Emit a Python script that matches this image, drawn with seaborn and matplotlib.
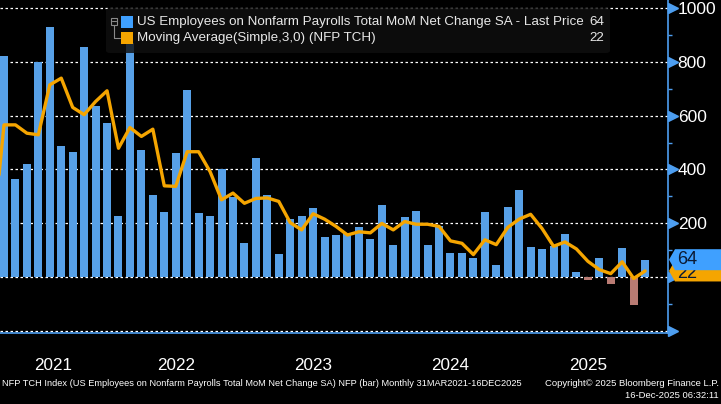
import matplotlib
matplotlib.use("Agg")
import matplotlib.pyplot as plt
import matplotlib.transforms as mtransforms
from matplotlib.patches import Polygon, FancyBboxPatch, Rectangle
from matplotlib.lines import Line2D
from matplotlib.ticker import MultipleLocator, FixedLocator
import seaborn as sns
import numpy as np
import pandas as pd

# ---------------- data ----------------
months = pd.date_range("2021-03-31", "2025-11-30", freq="ME")
nfp = [824, 365, 421, 799, 932, 488, 466, 857, 637, 574,
       227, 870, 473, 306, 242, 462, 697, 238, 227, 401, 298, 125,
       443, 306, 86, 216, 227, 257, 149, 156, 165, 186, 142, 268,
       119, 224, 246, 119, 190, 90, 90, 72, 242, 46, 261, 324,
       112, 105, 116, 161, 20, -10, 72, -25, 108, -105, 64]
# 3-month simple moving average, Feb 2021 .. Nov 2025
ma_months = pd.date_range("2021-02-28", "2025-11-30", freq="ME")
ma3 = [140,
       566, 566, 535, 529, 715, 740, 631, 604, 653, 693,
       479, 556, 523, 550, 339, 337, 466, 466, 392, 287, 312, 274,
       292, 294, 281, 202, 175, 235, 215, 188, 156, 168, 164, 199,
       175, 206, 196, 196, 188, 134, 125, 83, 138, 120, 184, 215,
       233, 180, 114, 130, 104, 58, 27, 12, 56, -6, 22]
axis_months = pd.date_range("2021-03-31", "2025-12-31", freq="ME")
y_major = [-200, 0, 200, 400, 600, 800, 1000]
y_labels = ["", "", "200", "400", "600", "800", "1000"]
legend_labels = ["US Employees on Nonfarm Payrolls Total MoM Net Change SA - Last Price",
                 "Moving Average(Simple,3,0) (NFP TCH)"]
footer_left = ("NFP TCH Index (US Employees on Nonfarm Payrolls Total MoM Net Change SA) "
               "NFP (bar) Monthly 31MAR2021-16DEC2025")
footer_right1 = "Copyright\u00a9 2025 Bloomberg Finance L.P."
footer_right2 = "16-Dec-2025 06:32:11"

BLUE = "#3fa0ff"
NEG = "#c47268"
ORANGE = "#f5a500"
AXBLUE = "#4d9ef0"
STEEL = "#3e6b9e"

sns.set_theme(style="dark")
plt.rcParams["font.family"] = ["Liberation Sans", "DejaVu Sans"]

W, H = 721, 404
fig = plt.figure(figsize=(W / 100, H / 100), dpi=100, facecolor="black")
ax = fig.add_axes([0, (H - 333) / H, 668 / W, 333 / H])
ax.set_facecolor("black")

pos = np.arange(len(nfp))
df = pd.DataFrame({"pos": pos, "value": nfp,
                   "sign": ["pos" if v >= 0 else "neg" for v in nfp]})
sns.barplot(data=df, x="pos", y="value", hue="sign",
            palette={"pos": BLUE, "neg": NEG}, native_scale=True,
            width=0.7, dodge=False, legend=False, errorbar=None,
            linewidth=0, zorder=2, ax=ax)

ma_pos = np.arange(len(ma3)) - 1
sns.lineplot(x=ma_pos, y=ma3, color=ORANGE, linewidth=2.4, zorder=3,
             solid_joinstyle="round", ax=ax)

ax.set_xlim(-0.35, 58.0)
ax.set_ylim(-209, 1031)
ax.set_xlabel("")
ax.set_ylabel("")

# y axis on the right
ax.yaxis.tick_right()
ax.set_yticks(y_major)
ax.set_yticklabels(y_labels)
ax.yaxis.set_minor_locator(MultipleLocator(100))
ax.tick_params(axis="y", which="major", length=0, pad=7, labelcolor="white",
               labelsize=12.5)
ax.tick_params(axis="y", which="minor", length=3, width=1, color=AXBLUE,
               direction="out")
ax.grid(False)
ax.yaxis.grid(True, which="major", color="white", linestyle=(0, (2, 2)),
              linewidth=0.9, zorder=1)
ax.set_axisbelow(True)

# x axis: quarter ticks and year separators
ax_pos = np.arange(len(axis_months))
dec_pos = [p for p, m in zip(ax_pos, axis_months) if m.month == 12]
qtr_pos = [p for p, m in zip(ax_pos, axis_months) if m.month in (3, 6, 9)]
ax.xaxis.set_major_locator(FixedLocator(dec_pos))
ax.xaxis.set_minor_locator(FixedLocator(qtr_pos))
ax.set_xticklabels([""] * len(dec_pos))
ax.tick_params(axis="x", which="major", length=29.5, width=1, color=STEEL,
               direction="out")
ax.tick_params(axis="x", which="minor", length=3, width=1, color=AXBLUE,
               direction="out")

for s in ["left", "top"]:
    ax.spines[s].set_visible(False)
ax.spines["right"].set_color(AXBLUE)
ax.spines["right"].set_linewidth(1.2)
ax.spines["bottom"].set_color(AXBLUE)
ax.spines["bottom"].set_linewidth(1.2)

# triangles at major y ticks
tri_tr = mtransforms.blended_transform_factory(ax.transAxes, ax.transData)
for v in y_major:
    ax.plot([1 + 4.5 / 668], [v], marker=">", markersize=6.5, color=AXBLUE,
            transform=tri_tr, clip_on=False, zorder=5)

# year labels
bounds = [ax.get_xlim()[0]] + dec_pos
years = sorted(set(m.year for m in axis_months))
def fx(x): return x / W
def fy(y): return 1 - y / H
ytr = mtransforms.blended_transform_factory(ax.transData, fig.transFigure)
year_texts = []
for i, yr in enumerate(years):
    lo = bounds[i]
    hi = bounds[i + 1]
    t = ax.text((lo + hi) / 2, fy(365), str(yr), transform=ytr, ha="center",
                va="center", color="white", fontsize=13, clip_on=False)
    year_texts.append(t)

fig.canvas.draw()
rend = fig.canvas.get_renderer()

def fit(t, target):
    w = t.get_window_extent(rend).width
    t.set_fontsize(t.get_fontsize() * target / w)

# fit year labels
fit(year_texts[0], 38)
for t in year_texts[1:]:
    t.set_fontsize(year_texts[0].get_fontsize())

# legend box (slightly translucent, as in the reference)
leg = FancyBboxPatch((fx(106), fy(53)), fx(610) - fx(106), fy(8) - fy(53),
                     boxstyle="round,pad=0,rounding_size=0.006",
                     transform=fig.transFigure, fc=(0.06, 0.06, 0.06, 0.82),
                     ec="none", zorder=10)
fig.patches.append(leg)
# tree icon
fig.patches.append(Rectangle((fx(111), fy(24.5)), fx(117) - fx(111), fy(18) - fy(24.5),
                             transform=fig.transFigure, fill=False, ec="#8a8a8a",
                             lw=0.8, zorder=11))
fig.lines.append(Line2D([fx(112.5), fx(115.5)], [fy(21.3), fy(21.3)],
                        transform=fig.transFigure, color="#8a8a8a", lw=0.8, zorder=11))
fig.lines.append(Line2D([fx(114), fx(114), fx(119.5)], [fy(24.5), fy(38), fy(38)],
                        transform=fig.transFigure, color="#8a8a8a", lw=0.8, zorder=11))
for yc, col in [(22, BLUE), (38, ORANGE)]:
    fig.patches.append(Rectangle((fx(121), fy(yc + 6)), fx(133) - fx(121), fy(yc - 6) - fy(yc + 6),
                                 transform=fig.transFigure, fc=col, ec="none", zorder=11))
lt1 = fig.text(fx(137), fy(22), legend_labels[0], ha="left", va="center",
               color="#e8e8e8", fontsize=9.5, zorder=12)
fit(lt1, 447)
lfs = lt1.get_fontsize()
fig.text(fx(137), fy(38), legend_labels[1], ha="left", va="center",
         color="#e8e8e8", fontsize=lfs, zorder=12)
fig.text(fx(604), fy(22), f"{nfp[-1]}", ha="right", va="center",
         color="#e8e8e8", fontsize=lfs, zorder=12)
fig.text(fx(604), fy(38), f"{ma3[-1]}", ha="right", va="center",
         color="#e8e8e8", fontsize=lfs, zorder=12)

# value tags on right axis
def tag(val, col, z, yshift=0.0):
    yd = ax.transData.transform((0, val))[1]
    yc = H - yd
    h = 10.5
    pts = [(669, yc), (675, yc - h), (W + 2, yc - h), (W + 2, yc + h), (675, yc + h)]
    poly = Polygon([(fx(x), fy(y)) for x, y in pts], closed=True,
                   transform=fig.transFigure, fc=col, ec="none", zorder=z)
    fig.patches.append(poly)
    fig.text(fx(677), fy(yc + yshift), f"{val}", ha="left", va="center",
             color="#0b1a33", fontsize=13, zorder=z + 0.5)

tag(ma3[-1], ORANGE, 20, yshift=2.5)
tag(nfp[-1], BLUE, 22)

# footer
f1 = fig.text(fx(2), fy(383), footer_left, ha="left", va="center", color="white",
              fontsize=7)
fit(f1, 521)
f2 = fig.text(fx(719), fy(383), footer_right1, ha="right", va="center",
              color="white", fontsize=7)
fit(f2, 173)
f3 = fig.text(fx(719), fy(396), footer_right2, ha="right", va="center",
              color="white", fontsize=f2.get_fontsize())

fig.savefig("out.png", dpi=100, facecolor="black")
